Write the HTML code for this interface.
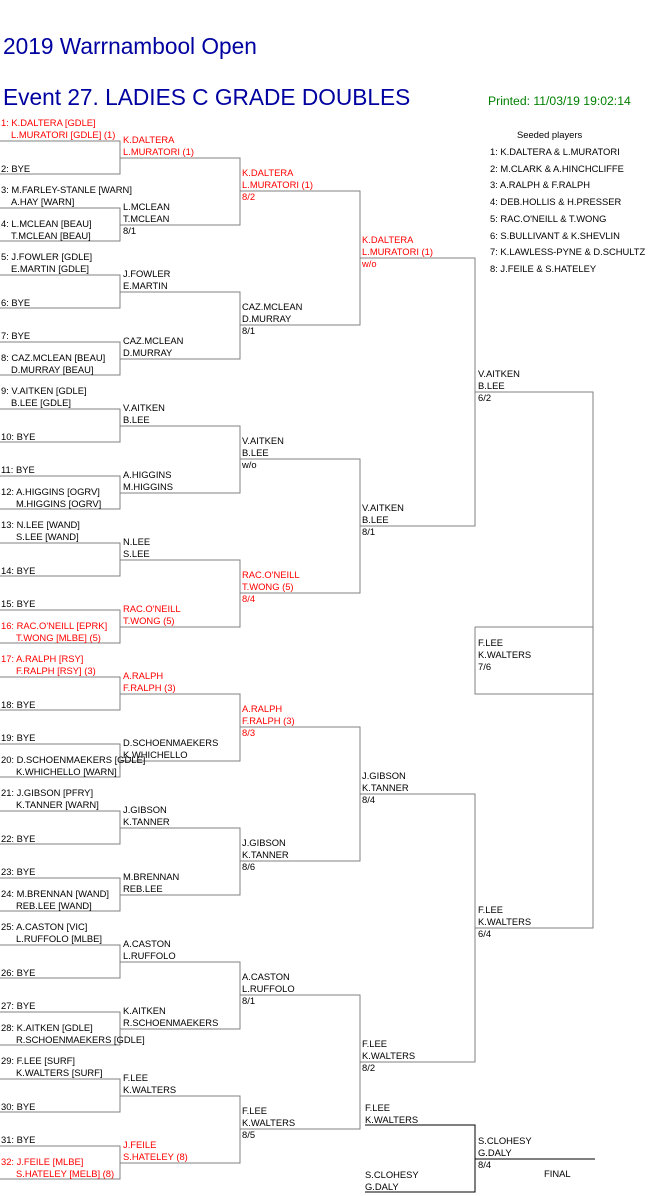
<!DOCTYPE html>
<html><head><meta charset="utf-8"><style>
body{margin:0;width:661px;height:1196px;background:#fff;position:relative;overflow:hidden;font-family:"Liberation Sans",Arial,sans-serif}
.t{position:absolute;font-size:9.4px;line-height:10px;white-space:nowrap;color:#000}
.r{color:#f00}
.h{position:absolute;font-size:22.7px;line-height:26px;color:#0000a0;white-space:nowrap;left:3px}
svg{position:absolute;left:0;top:0}
</style></head><body>
<div class="h" style="top:33px">2019 Warrnambool Open</div>
<div class="h" style="top:84px">Event 27. LADIES C GRADE DOUBLES</div>
<div class="t" style="left:488px;top:95px;font-size:12.2px;line-height:13px;color:#008000">Printed: 11/03/19 19:02:14</div>
<div class="t" style="left:517px;top:130px">Seeded players</div>
<div class="t" style="left:490px;top:147px">1: K.DALTERA &amp; L.MURATORI</div>
<div class="t" style="left:490px;top:164px">2: M.CLARK &amp; A.HINCHCLIFFE</div>
<div class="t" style="left:490px;top:180px">3: A.RALPH &amp; F.RALPH</div>
<div class="t" style="left:490px;top:197px">4: DEB.HOLLIS &amp; H.PRESSER</div>
<div class="t" style="left:490px;top:214px">5: RAC.O'NEILL &amp; T.WONG</div>
<div class="t" style="left:490px;top:231px">6: S.BULLIVANT &amp; K.SHEVLIN</div>
<div class="t" style="left:490px;top:247px">7: K.LAWLESS-PYNE &amp; D.SCHULTZ</div>
<div class="t" style="left:490px;top:264px">8: J.FEILE &amp; S.HATELEY</div>

<svg width="661" height="1196" shape-rendering="crispEdges">
<g stroke="#808080" stroke-width="1" fill="none">
<path d="M0 141H120V174H0M0 208H120V241H0M0 275H120V308H0M0 342H120V375H0M0 409H120V442H0M0 476H120V509H0M0 543H120V576H0M0 610H120V643H0M0 677H120V710H0M0 744H120V777H0M0 811H120V844H0M0 878H120V911H0M0 945H120V978H0M0 1012H120V1045H0M0 1079H120V1112H0M0 1146H120V1179H0"/>
<path d="M120 158H240V225H120M120 292H240V359H120M120 426H240V493H120M120 560H240V627H120M120 694H240V761H120M120 828H240V895H120M120 962H240V1029H120M120 1096H240V1163H120"/>
<path d="M240 191H360V325H240M240 459H360V593H240M240 727H360V861H240M240 995H360V1129H240"/>
<path d="M360 258H475V526H360M360 794H475V1062H360"/>
<path d="M475 392H593V928H475M475 627V694H593"/>
<path d="M475 627H593"/>
</g>
<g stroke="#000" stroke-width="1" fill="none">
<path d="M365 1125H475V1192H365M475 1159H595"/>
</g>
</svg>

<!-- Round 1 -->
<div class="t r" style="left:1px;top:118px">1: K.DALTERA [GDLE]</div><div class="t r" style="left:11px;top:130px">L.MURATORI [GDLE] (1)</div>
<div class="t" style="left:1px;top:164px">2: BYE</div>
<div class="t" style="left:1px;top:185px">3: M.FARLEY-STANLE [WARN]</div><div class="t" style="left:11px;top:197px">A.HAY [WARN]</div>
<div class="t" style="left:1px;top:219px">4: L.MCLEAN [BEAU]</div><div class="t" style="left:11px;top:231px">T.MCLEAN [BEAU]</div>
<div class="t" style="left:1px;top:252px">5: J.FOWLER [GDLE]</div><div class="t" style="left:11px;top:264px">E.MARTIN [GDLE]</div>
<div class="t" style="left:1px;top:298px">6: BYE</div>
<div class="t" style="left:1px;top:331px">7: BYE</div>
<div class="t" style="left:1px;top:353px">8: CAZ.MCLEAN [BEAU]</div><div class="t" style="left:11px;top:365px">D.MURRAY [BEAU]</div>
<div class="t" style="left:1px;top:386px">9: V.AITKEN [GDLE]</div><div class="t" style="left:11px;top:398px">B.LEE [GDLE]</div>
<div class="t" style="left:1px;top:432px">10: BYE</div>
<div class="t" style="left:1px;top:465px">11: BYE</div>
<div class="t" style="left:1px;top:487px">12: A.HIGGINS [OGRV]</div><div class="t" style="left:16px;top:499px">M.HIGGINS [OGRV]</div>
<div class="t" style="left:1px;top:520px">13: N.LEE [WAND]</div><div class="t" style="left:16px;top:532px">S.LEE [WAND]</div>
<div class="t" style="left:1px;top:566px">14: BYE</div>
<div class="t" style="left:1px;top:599px">15: BYE</div>
<div class="t r" style="left:1px;top:621px">16: RAC.O'NEILL [EPRK]</div><div class="t r" style="left:16px;top:633px">T.WONG [MLBE] (5)</div>
<div class="t r" style="left:1px;top:654px">17: A.RALPH [RSY]</div><div class="t r" style="left:16px;top:666px">F.RALPH [RSY] (3)</div>
<div class="t" style="left:1px;top:700px">18: BYE</div>
<div class="t" style="left:1px;top:733px">19: BYE</div>
<div class="t" style="left:1px;top:755px">20: D.SCHOENMAEKERS [GDLE]</div><div class="t" style="left:16px;top:767px">K.WHICHELLO [WARN]</div>
<div class="t" style="left:1px;top:788px">21: J.GIBSON [PFRY]</div><div class="t" style="left:16px;top:800px">K.TANNER [WARN]</div>
<div class="t" style="left:1px;top:834px">22: BYE</div>
<div class="t" style="left:1px;top:867px">23: BYE</div>
<div class="t" style="left:1px;top:889px">24: M.BRENNAN [WAND]</div><div class="t" style="left:16px;top:901px">REB.LEE [WAND]</div>
<div class="t" style="left:1px;top:922px">25: A.CASTON [VIC]</div><div class="t" style="left:16px;top:934px">L.RUFFOLO [MLBE]</div>
<div class="t" style="left:1px;top:968px">26: BYE</div>
<div class="t" style="left:1px;top:1001px">27: BYE</div>
<div class="t" style="left:1px;top:1023px">28: K.AITKEN [GDLE]</div><div class="t" style="left:16px;top:1035px">R.SCHOENMAEKERS [GDLE]</div>
<div class="t" style="left:1px;top:1056px">29: F.LEE [SURF]</div><div class="t" style="left:16px;top:1068px">K.WALTERS [SURF]</div>
<div class="t" style="left:1px;top:1102px">30: BYE</div>
<div class="t" style="left:1px;top:1135px">31: BYE</div>
<div class="t r" style="left:1px;top:1157px">32: J.FEILE [MLBE]</div><div class="t r" style="left:16px;top:1169px">S.HATELEY [MELB] (8)</div>

<!-- Round 2 -->
<div class="t r" style="left:123px;top:135px">K.DALTERA</div><div class="t r" style="left:123px;top:147px">L.MURATORI (1)</div>
<div class="t" style="left:123px;top:202px">L.MCLEAN</div><div class="t" style="left:123px;top:214px">T.MCLEAN</div><div class="t" style="left:123px;top:226px">8/1</div>
<div class="t" style="left:123px;top:269px">J.FOWLER</div><div class="t" style="left:123px;top:281px">E.MARTIN</div>
<div class="t" style="left:123px;top:336px">CAZ.MCLEAN</div><div class="t" style="left:123px;top:348px">D.MURRAY</div>
<div class="t" style="left:123px;top:403px">V.AITKEN</div><div class="t" style="left:123px;top:415px">B.LEE</div>
<div class="t" style="left:123px;top:470px">A.HIGGINS</div><div class="t" style="left:123px;top:482px">M.HIGGINS</div>
<div class="t" style="left:123px;top:537px">N.LEE</div><div class="t" style="left:123px;top:549px">S.LEE</div>
<div class="t r" style="left:123px;top:604px">RAC.O'NEILL</div><div class="t r" style="left:123px;top:616px">T.WONG (5)</div>
<div class="t r" style="left:123px;top:671px">A.RALPH</div><div class="t r" style="left:123px;top:683px">F.RALPH (3)</div>
<div class="t" style="left:123px;top:738px">D.SCHOENMAEKERS</div><div class="t" style="left:123px;top:750px">K.WHICHELLO</div>
<div class="t" style="left:123px;top:805px">J.GIBSON</div><div class="t" style="left:123px;top:817px">K.TANNER</div>
<div class="t" style="left:123px;top:872px">M.BRENNAN</div><div class="t" style="left:123px;top:884px">REB.LEE</div>
<div class="t" style="left:123px;top:939px">A.CASTON</div><div class="t" style="left:123px;top:951px">L.RUFFOLO</div>
<div class="t" style="left:123px;top:1006px">K.AITKEN</div><div class="t" style="left:123px;top:1018px">R.SCHOENMAEKERS</div>
<div class="t" style="left:123px;top:1073px">F.LEE</div><div class="t" style="left:123px;top:1085px">K.WALTERS</div>
<div class="t r" style="left:123px;top:1140px">J.FEILE</div><div class="t r" style="left:123px;top:1152px">S.HATELEY (8)</div>

<!-- Round 3 -->
<div class="t r" style="left:242px;top:168px">K.DALTERA</div><div class="t r" style="left:242px;top:180px">L.MURATORI (1)</div><div class="t r" style="left:242px;top:192px">8/2</div>
<div class="t" style="left:242px;top:302px">CAZ.MCLEAN</div><div class="t" style="left:242px;top:314px">D.MURRAY</div><div class="t" style="left:242px;top:326px">8/1</div>
<div class="t" style="left:242px;top:436px">V.AITKEN</div><div class="t" style="left:242px;top:448px">B.LEE</div><div class="t" style="left:242px;top:460px">w/o</div>
<div class="t r" style="left:242px;top:570px">RAC.O'NEILL</div><div class="t r" style="left:242px;top:582px">T.WONG (5)</div><div class="t r" style="left:242px;top:594px">8/4</div>
<div class="t r" style="left:242px;top:704px">A.RALPH</div><div class="t r" style="left:242px;top:716px">F.RALPH (3)</div><div class="t r" style="left:242px;top:728px">8/3</div>
<div class="t" style="left:242px;top:838px">J.GIBSON</div><div class="t" style="left:242px;top:850px">K.TANNER</div><div class="t" style="left:242px;top:862px">8/6</div>
<div class="t" style="left:242px;top:972px">A.CASTON</div><div class="t" style="left:242px;top:984px">L.RUFFOLO</div><div class="t" style="left:242px;top:996px">8/1</div>
<div class="t" style="left:242px;top:1106px">F.LEE</div><div class="t" style="left:242px;top:1118px">K.WALTERS</div><div class="t" style="left:242px;top:1130px">8/5</div>

<!-- Round 4 -->
<div class="t r" style="left:362px;top:235px">K.DALTERA</div><div class="t r" style="left:362px;top:247px">L.MURATORI (1)</div><div class="t r" style="left:362px;top:259px">w/o</div>
<div class="t" style="left:362px;top:503px">V.AITKEN</div><div class="t" style="left:362px;top:515px">B.LEE</div><div class="t" style="left:362px;top:527px">8/1</div>
<div class="t" style="left:362px;top:771px">J.GIBSON</div><div class="t" style="left:362px;top:783px">K.TANNER</div><div class="t" style="left:362px;top:795px">8/4</div>
<div class="t" style="left:362px;top:1039px">F.LEE</div><div class="t" style="left:362px;top:1051px">K.WALTERS</div><div class="t" style="left:362px;top:1063px">8/2</div>

<!-- Round 5 -->
<div class="t" style="left:478px;top:369px">V.AITKEN</div><div class="t" style="left:478px;top:381px">B.LEE</div><div class="t" style="left:478px;top:393px">6/2</div>
<div class="t" style="left:478px;top:905px">F.LEE</div><div class="t" style="left:478px;top:917px">K.WALTERS</div><div class="t" style="left:478px;top:929px">6/4</div>
<div class="t" style="left:478px;top:638px">F.LEE</div><div class="t" style="left:478px;top:650px">K.WALTERS</div><div class="t" style="left:478px;top:662px">7/6</div>

<!-- Final -->
<div class="t" style="left:365px;top:1103px">F.LEE</div><div class="t" style="left:365px;top:1115px">K.WALTERS</div>
<div class="t" style="left:365px;top:1170px">S.CLOHESY</div><div class="t" style="left:365px;top:1182px">G.DALY</div>
<div class="t" style="left:478px;top:1136px">S.CLOHESY</div><div class="t" style="left:478px;top:1148px">G.DALY</div><div class="t" style="left:478px;top:1160px">8/4</div>
<div class="t" style="left:544px;top:1169px">FINAL</div>
</body></html>
